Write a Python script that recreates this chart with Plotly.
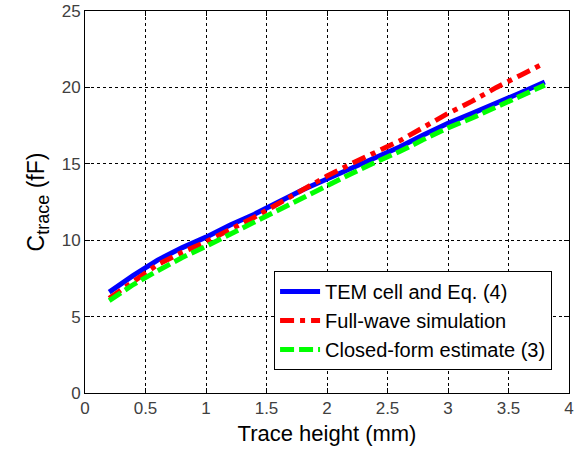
import plotly.graph_objects as go

x_mm = [0.2, 0.4, 0.6, 0.8, 1.0, 1.2, 1.4, 1.6, 1.8, 2.0, 2.2, 2.4, 2.6, 2.8, 3.0, 3.2, 3.4, 3.6, 3.8]
tem_cell = [6.6, 7.7, 8.7, 9.5, 10.2, 11.0, 11.7, 12.5, 13.3, 14.0, 14.7, 15.4, 16.1, 16.9, 17.65, 18.3, 18.95, 19.65, 20.35]
full_wave = [6.2, 7.3, 8.4, 9.2, 9.9, 10.7, 11.5, 12.4, 13.3, 14.2, 15.0, 15.75, 16.5, 17.4, 18.3, 19.1, 20.0, 20.8, 21.6]
closed_form = [6.05, 7.1, 8.0, 8.85, 9.6, 10.4, 11.15, 11.95, 12.8, 13.6, 14.35, 15.1, 15.8, 16.6, 17.35, 18.0, 18.7, 19.4, 20.15]

names = ["TEM cell and Eq. (4)", "Full-wave simulation", "Closed-form estimate (3)"]
x_ticks = [0, 0.5, 1, 1.5, 2, 2.5, 3, 3.5, 4]
x_tick_text = ["0", "0.5", "1", "1.5", "2", "2.5", "3", "3.5", "4"]
y_ticks = [0, 5, 10, 15, 20, 25]

FONT = "Liberation Sans, Arial"

fig = go.Figure()
fig.add_trace(go.Scatter(x=x_mm, y=tem_cell, mode="lines", name=names[0],
                         line=dict(color="#0000ff", width=5)))
fig.add_trace(go.Scatter(x=x_mm, y=full_wave, mode="lines", name=names[1],
                         line=dict(color="#ff0000", width=5, dash="14px,6px,5px,6px")))
fig.add_trace(go.Scatter(x=x_mm, y=closed_form, mode="lines", name=names[2],
                         line=dict(color="#00ff00", width=5, dash="14px,5px")))

axis_common = dict(
    showline=True, linecolor="black", linewidth=1, mirror="ticks",
    ticks="inside", ticklen=5, tickcolor="black",
    showgrid=True, gridcolor="black", gridwidth=1, griddash="3px,3px",
    zeroline=False, automargin=False,
    tickfont=dict(family=FONT, size=17, color="#404040"),
)

fig.update_xaxes(range=[0, 4], tickvals=x_ticks, ticktext=x_tick_text,
                 title=dict(text="Trace height (mm)", font=dict(family=FONT, size=22, color="black"), standoff=8),
                 **axis_common)
fig.update_yaxes(range=[0, 25], tickvals=y_ticks,
                 title=dict(text="C<sub><span style='font-size:18px'>trace</span></sub> (fF)",
                            font=dict(family=FONT, size=23, color="black"), standoff=10),
                 **axis_common)

fig.update_layout(
    width=587, height=460,
    margin=dict(l=85, r=18, t=11, b=67),
    paper_bgcolor="white", plot_bgcolor="white",
    legend=dict(x=0.965, y=0.06, xanchor="right", yanchor="bottom",
                bgcolor="white", bordercolor="black", borderwidth=1,
                font=dict(family=FONT, size=20, color="black"),
                tracegroupgap=0, itemwidth=40),
    showlegend=True,
)

fig.write_html("out.html", config={"displayModeBar": False},
               post_script="document.body.style.margin='0';")
